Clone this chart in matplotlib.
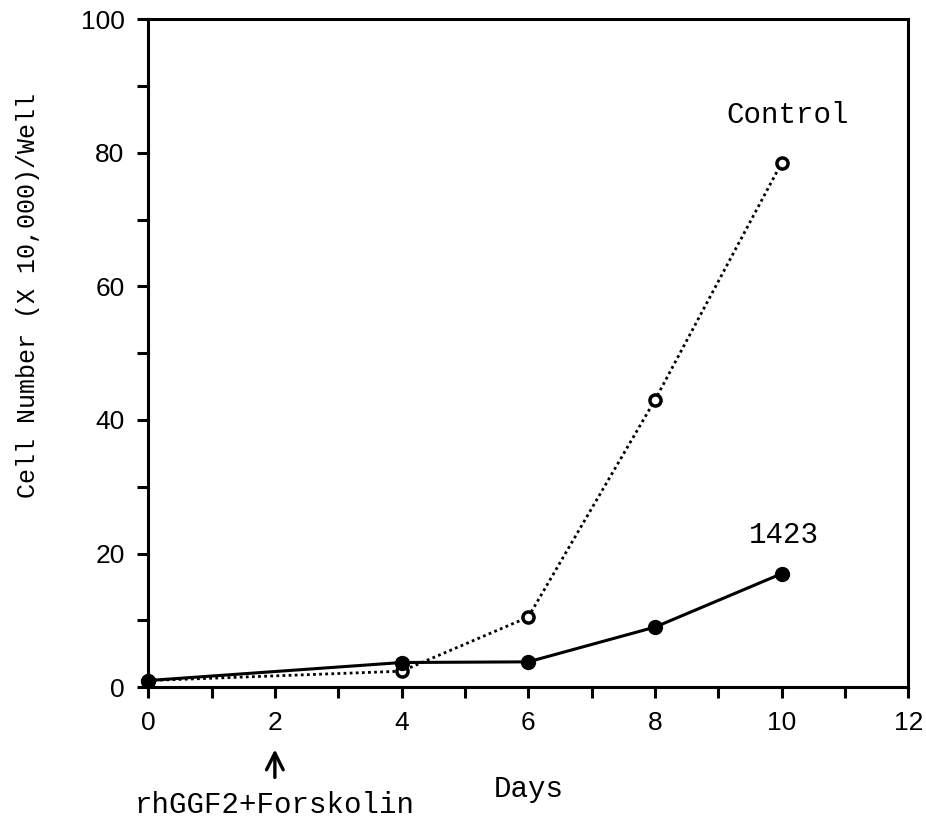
"""
Cell number per well over time: control vs 1423 (rhGGF2+Forskolin added day 2)
"""

import numpy as np
from matplotlib import pyplot as plt
from matplotlib.ticker import MultipleLocator

# data ------------------------------------------------------------
days         = np.array([0, 4, 6, 8, 10])
ctl_cells    = np.array([1.0, 2.4, 10.5, 43.0, 78.5])
cells_1423   = np.array([1.0, 3.7, 3.8, 9.0, 17.0])
xticks       = [0, 2, 4, 6, 8, 10, 12]
yticks       = [0, 20, 40, 60, 80, 100]
# -----------------------------------------------------------------

mono     = 'Liberation Mono'
sans     = 'Liberation Sans'
lw_axis  = 2.2

fig = plt.figure(figsize=(9.26, 8.32), dpi=100)
ax  = fig.add_axes([0.160, 0.174, 0.821, 0.803])

# control (open circles, dotted)
ax.plot(days, ctl_cells, linestyle=(0, (1, 1.2)), color='k', linewidth=2.0,
        dash_capstyle='butt', marker='o', markersize=8, markerfacecolor='white',
        markeredgecolor='k', markeredgewidth=2.5, clip_on=False, zorder=3)
# 1423 (filled circles, solid)
ax.plot(days, cells_1423, linestyle='-', color='k', linewidth=2.2,
        marker='o', markersize=10, markerfacecolor='k', markeredgecolor='k',
        clip_on=False, zorder=4)

ax.set_xlim(0, 12)
ax.set_ylim(0, 100)
ax.set_xticks(xticks)
ax.set_yticks(yticks)
ax.xaxis.set_minor_locator(MultipleLocator(1))
ax.yaxis.set_minor_locator(MultipleLocator(10))
ax.tick_params(which='both', direction='out', length=8, width=lw_axis,
               top=False, right=False)
ax.tick_params(axis='x', which='major', pad=9)
ax.tick_params(axis='y', which='major', pad=9)
for lab in ax.get_xticklabels() + ax.get_yticklabels():
    lab.set_fontfamily(sans)
    lab.set_fontsize(19)
for s in ax.spines.values():
    s.set_linewidth(lw_axis)

ax.set_xlabel('Days', fontfamily=mono, fontsize=21)
ax.xaxis.set_label_coords(0.5, -0.153)
ax.xaxis.label.set_va('center')
ax.set_ylabel('Cell Number (X 10,000)/Well', fontfamily=mono, fontsize=18)
ax.yaxis.set_label_coords(-0.158, 0.587)
ax.yaxis.label.set_va('center')

# series labels
ax.text(10.1, 85.6, 'Control', fontfamily=mono, fontsize=21, ha='center', va='center')
ax.text(10.03, 22.8, '1423', fontfamily=mono, fontsize=21, ha='center', va='center')

# treatment arrow at day 2
ax.annotate('', xy=(2, -9.3), xytext=(2, -13.5), annotation_clip=False,
            arrowprops=dict(arrowstyle='->', color='k', lw=2.4,
                            mutation_scale=30, shrinkA=0, shrinkB=0))
ax.text(2, -17.7, 'rhGGF2+Forskolin', fontfamily=mono, fontsize=21,
        ha='center', va='center', clip_on=False)

plt.savefig('out.png', dpi=100)
